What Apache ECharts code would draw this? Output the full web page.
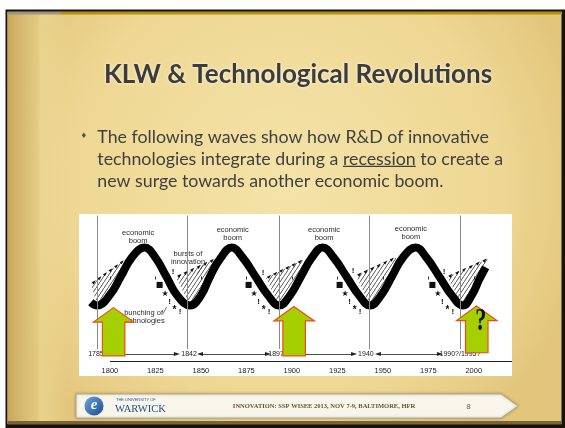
<!DOCTYPE html>
<html><head><meta charset="utf-8">
<script src="https://cdn.jsdelivr.net/npm/echarts@6/dist/echarts.min.js"></script>
<style>html,body{margin:0;padding:0;background:#fff}#c{width:565px;height:428px}</style>
</head><body><div id="c"></div>
<script>
// ---------------- data ----------------
const tickYears = [1800, 1825, 1850, 1875, 1900, 1925, 1950, 1975, 2000];
const waveYears = [1789.5, 1793, 1800, 1806, 1812, 1819, 1825, 1831, 1837, 1844, 1850, 1855, 1861, 1867, 1873, 1880, 1887, 1893, 1899, 1905, 1911, 1917, 1923, 1930, 1937, 1943, 1949, 1955, 1961, 1968, 1974, 1981, 1988, 1994, 1999, 2003, 2006.5];
const waveValues = [-0.84, -0.95, -0.6, 0, 0.62, 0.95, 0.62, 0, -0.62, -0.95, -0.62, 0, 0.62, 0.95, 0.62, 0, -0.62, -0.95, -0.62, 0, 0.62, 0.95, 0.62, 0, -0.62, -0.95, -0.62, 0, 0.62, 0.95, 0.62, 0, -0.62, -0.95, -0.6, -0.1, 0.3];
const peakYears = [1819, 1867, 1917, 1968];
const boomLabelYears = [1815.5, 1867.5, 1917.7, 1965.4];
const boomLabelValues = [1.31, 1.39, 1.39, 1.44];
const troughYears = [1793, 1844, 1893, 1943, 1994];
const cycleLineYears = [1792.8, 1842.3, 1892.9, 1942.4, 1992.4];
const periodLabels = ['1785', '1842', '1897', '1940', '1990?/1995?'];
const periodLabelYears = [1792.3, 1843.5, 1891.3, 1940.7, 1992.4];
const periodArrowFrom = [1796.7, 1849.5, 1897.9, 1947.3];
const periodArrowTo = [1836.8, 1886.9, 1934.2, 1981.4];
const periodArrowBoth = [false, true, false, true];
const hatchFrom = [[1789.6, -0.25], [1836.3, -0.02], [1885.8, -0.05], [1935.3, 0.02], [1985.3, -0.02]];
const hatchTo = [[1808.1, 0.54], [1857.8, 0.57], [1906.1, 0.54], [1956.7, 0.61], [2007.8, 0.58]];
const markSymbols = ['■', '★', '!', '*', '!'];
const arrowYears = [1801.9, 1901.1, 2001.5];
const arrowTop = [-1.02, -0.98, -0.97];
const arrowBottom = [-2.6, -2.6, -2.5];
const annotationTexts = ['bursts of\ninnovation', 'bunching of\ntechnologies'];
const annotationPoints = [[1842.9, 0.62], [1818.5, -1.33]];
const leaderLines = [[[1851.2, 0.37], [1848.0, 0.09]], [[1829.2, -1.22], [1831.1, -1.0]]];
const questionPoint = [2003.9, -1.49];
const Y_MIN = -2.77, Y_MAX = 2.05;
const PERIOD_Y = -2.54;

// ---------------- helpers ----------------
const LABEL_FONT = 'Liberation Sans, Arial, sans-serif';
const BODY_FONT = '17.8px Lato';
const hatchPattern = (function () {
  const c = document.createElement('canvas'); c.width = 4; c.height = 6;
  const g = c.getContext('2d'); g.strokeStyle = '#222'; g.lineWidth = 0.75;
  g.beginPath(); g.moveTo(-1, 7.5); g.lineTo(5, -1.5); g.stroke();
  return c;
})();

function risingYearAt(tr, v) {
  for (let j = 1; j < waveYears.length; j++) {
    if (waveYears[j] > tr && waveValues[j] >= v && waveValues[j - 1] < v) {
      const t = (v - waveValues[j - 1]) / (waveValues[j] - waveValues[j - 1]);
      return [waveYears[j - 1] + t * (waveYears[j] - waveYears[j - 1]), v];
    }
  }
  return [waveYears[waveYears.length - 1], waveValues[waveValues.length - 1]];
}

const bodyTextMeasure = document.createElement('canvas').getContext('2d');
bodyTextMeasure.font = BODY_FONT;
const line2Prefix = 'technologies integrate during a ';
const underlineX0 = 97.3 + bodyTextMeasure.measureText(line2Prefix).width;
const underlineX1 = underlineX0 + bodyTextMeasure.measureText('recession').width;

function gtext(text, x, y, opt) {
  return { type: 'text', x: x, y: y, style: Object.assign({ text: text, align: 'left', verticalAlign: 'middle', textAlign: 'left', textVerticalAlign: 'middle' }, opt) };
}

// ---------------- chart ----------------
const chart = echarts.init(document.getElementById('c'), null, { renderer: 'canvas' });

const markLineData = [];
markLineData.push([{ coord: [1800, Y_MIN], symbol: 'none' }, { coord: [2021, Y_MIN], symbol: 'none' }]);
cycleLineYears.forEach(function (y) {
  markLineData.push([{ coord: [y, 2.0], symbol: 'none', lineStyle: { color: '#8a8a8a', width: 1 } }, { coord: [y, -2.38], symbol: 'none' }]);
});
periodArrowFrom.forEach(function (a, i) {
  markLineData.push([{ coord: [a, PERIOD_Y], symbol: periodArrowBoth[i] ? 'triangle' : 'none', symbolSize: [4, 6], lineStyle: { color: '#222', width: 0.8 } },
    { coord: [periodArrowTo[i], PERIOD_Y], symbol: 'triangle', symbolSize: [4, 6] }]);
});
leaderLines.forEach(function (l) {
  markLineData.push([{ coord: l[0], symbol: 'none', lineStyle: { color: '#333', width: 0.7 } }, { coord: l[1], symbol: 'none' }]);
});

const option = {
  animation: false,
  backgroundColor: '#ffffff',
  grid: { left: 79, top: 214, width: 433, height: 147, containLabel: false, outerBoundsMode: 'none' },
  xAxis: {
    type: 'value', min: 1783, max: 2021,
    axisLine: { show: false },
    splitLine: { show: false },
    axisTick: { show: true, customValues: tickYears, length: 3, lineStyle: { color: '#333', width: 1 } },
    axisLabel: { customValues: tickYears, fontSize: 7.5, color: '#222', margin: 6, fontFamily: LABEL_FONT, formatter: function (v) { return String(v); } }
  },
  yAxis: { type: 'value', min: Y_MIN, max: Y_MAX, show: false },
  graphic: {
    elements: [
      { type: 'rect', z: -100, shape: { x: 0, y: 0, width: 565, height: 428 }, style: { fill: '#ffffff' } },
      { type: 'rect', z: -99, shape: { x: 5.5, y: 9.5, width: 559.5, height: 418.5 }, style: { fill: '#151310' } },
      { type: 'rect', z: -98, shape: { x: 7.5, y: 12, width: 554, height: 412 }, style: { fill: { type: 'radial', x: 0.5, y: 0.42, r: 0.75, colorStops: [{ offset: 0, color: '#f4e3a8' }, { offset: 0.7, color: '#eed793' }, { offset: 1, color: '#e3c67c' }] } } },
      { type: 'rect', z: -97, shape: { x: 7.5, y: 12, width: 60, height: 412 }, style: { fill: { type: 'linear', x: 0, y: 0, x2: 1, y2: 0, colorStops: [{ offset: 0, color: '#c9a85c' }, { offset: 0.25, color: '#d7ba72' }, { offset: 0.5, color: 'rgba(226,200,128,0.8)' }, { offset: 0.55, color: 'rgba(236,214,146,0.7)' }, { offset: 1, color: 'rgba(240,220,152,0)' }] } } },
      { type: 'rect', z: -96, shape: { x: 60, y: 11.5, width: 502, height: 3 }, style: { fill: '#b58f10' } },
      { type: 'rect', z: -96, shape: { x: 7.5, y: 11.5, width: 53, height: 3 }, style: { fill: '#a29579' } },
      { type: 'rect', z: -96, shape: { x: 7.5, y: 421, width: 554, height: 3.5 }, style: { fill: '#7a6436' } },
      // title
      gtext('KLW & Technological Revolutions', 298, 74.5, { align: 'center', textAlign: 'center', fill: '#3c3c3c', font: 'bold 26px Lato', textShadowColor: 'rgba(255,255,255,0.95)', textShadowBlur: 3 }),
      // bullet
      gtext('\u2666', 80.5, 136.5, { fill: '#555', font: '7.5px DejaVu Sans' }),
      gtext('The following waves show how R&D of innovative', 97.3, 137.2, { fill: '#3f3f3f', font: BODY_FONT }),
      gtext('technologies integrate during a recession to create a', 97.3, 159.5, { fill: '#3f3f3f', font: BODY_FONT }),
      gtext('new surge towards another economic boom.', 97.3, 181.2, { fill: '#3f3f3f', font: BODY_FONT }),
      { type: 'line', shape: { x1: underlineX0, y1: 166.3, x2: underlineX1, y2: 166.3 }, style: { stroke: '#3f3f3f', lineWidth: 1.3 } },
      // chart white panel
      { type: 'rect', z: -50, shape: { x: 79, y: 214, width: 433, height: 162 }, style: { fill: '#ffffff' } },
      // footer
      { type: 'polygon', shape: { points: [[76, 394], [501, 394], [518, 406], [501, 418], [76, 418]] }, style: { fill: '#f8f5ea', stroke: '#b3a98f', lineWidth: 1, shadowBlur: 3, shadowColor: 'rgba(0,0,0,0.25)' } },
      { type: 'circle', shape: { cx: 94, cy: 406, r: 9.5 }, style: { fill: { type: 'linear', x: 0, y: 0, x2: 1, y2: 1, colorStops: [{ offset: 0, color: '#6aa3de' }, { offset: 1, color: '#1a4c90' }] } } },
      gtext('e', 94, 405.5, { align: 'center', textAlign: 'center', fill: '#ffffff', font: 'italic bold 15px Liberation Serif' }),
      gtext('THE UNIVERSITY OF', 116, 399.5, { fill: '#2a5a98', font: '4px Liberation Sans' }),
      gtext('WARWICK', 115, 409.5, { fill: '#1f4f8e', font: '10.5px Liberation Serif' }),
      gtext('INNOVATION: SSP WISEE 2013, NOV 7-9, BALTIMORE, HFR', 324, 406, { align: 'center', textAlign: 'center', fill: '#6b5530', font: 'bold 6.5px Liberation Serif' }),
      gtext('8', 468.5, 406.5, { align: 'center', textAlign: 'center', fill: '#6a6a6a', font: '8px Liberation Sans' })
    ]
  },
  series: [
    {
      name: 'guides', type: 'scatter', z: 1, symbolSize: 0, data: [[1800, Y_MIN]], silent: true,
      markLine: { silent: true, animation: false, symbol: 'none', label: { show: false }, lineStyle: { color: '#222', width: 1, type: 'solid' }, data: markLineData }
    },
    {
      name: 'hatch', type: 'custom', z: 2, coordinateSystem: 'cartesian2d', silent: true, clip: false,
      data: hatchFrom.map(function (a, i) { return [a[0], a[1], hatchTo[i][0], hatchTo[i][1], troughYears[i]]; }),
      renderItem: function (params, api) {
        const i = params.dataIndex;
        const a = [api.value(0), api.value(1)], b = [api.value(2), api.value(3)], tr = api.value(4);
        const onWave = risingYearAt(tr, b[1]);
        const pts = [api.coord(a), api.coord(b), api.coord(onWave)];
        for (let j = waveYears.length - 1; j >= 0; j--) {
          if (waveYears[j] < onWave[0] && waveYears[j] >= tr) pts.push(api.coord([waveYears[j], waveValues[j]]));
        }
        const children = [{ type: 'polygon', shape: { points: pts }, style: { fill: { image: hatchPattern, repeat: 'repeat' }, stroke: null } }];
        const pa = api.coord(a), pb = api.coord(b);
        const n = 6, dx = 0.72, dy = -0.69;
        for (let k = 0; k < n; k++) {
          const t = (k + 0.55) / n;
          const px = pa[0] + t * (pb[0] - pa[0]), py = pa[1] + t * (pb[1] - pa[1]);
          children.push({ type: 'polygon', shape: { points: [[px + dx * 2.4, py + dy * 2.4], [px - dx * 2 - dy * 1.5, py - dy * 2 + dx * 1.5], [px - dx * 2 + dy * 1.5, py - dy * 2 - dx * 1.5]] }, style: { fill: '#111' } });
        }
        if (i > 0) {
          children.push({ type: 'text', x: pa[0] - 3, y: pa[1] - 5.5, style: { text: '!', fill: '#111', font: 'bold 8px Liberation Sans', align: 'center', verticalAlign: 'middle' } });
        }
        return { type: 'group', children: children };
      }
    },
    {
      name: 'wave', type: 'line', z: 3, smooth: 0.45, symbol: 'none', silent: true,
      data: waveYears.map(function (y, i) { return [y, waveValues[i]]; }),
      lineStyle: { color: '#000', width: 8, cap: 'butt' }
    },
    {
      name: 'recession marks', type: 'custom', z: 3, coordinateSystem: 'cartesian2d', silent: true, clip: false,
      data: troughYears.slice(1).map(function (y) { return [y, -0.95]; }),
      renderItem: function (params, api) {
        const c = api.coord([api.value(0), api.value(1)]);
        const offs = [[-30.5, -20.5, '8px DejaVu Sans'], [-25, -11.5, '8px DejaVu Sans'], [-20.5, -4, 'bold 8px Liberation Sans'], [-15.5, 4.5, 'bold 10px Liberation Sans'], [-10, 6.5, 'bold 8px Liberation Sans']];
        return { type: 'group', children: markSymbols.map(function (s, k) {
          return { type: 'text', x: c[0] + offs[k][0], y: c[1] + offs[k][1], style: { text: s, fill: '#111', font: offs[k][2], align: 'center', verticalAlign: 'middle' } };
        }) };
      }
    },
    {
      name: 'boom labels', type: 'custom', z: 3, coordinateSystem: 'cartesian2d', silent: true, clip: false,
      data: boomLabelYears.map(function (y, i) { return [y, boomLabelValues[i]]; }),
      renderItem: function (params, api) {
        const c = api.coord([api.value(0), api.value(1)]);
        return { type: 'text', x: c[0], y: c[1], style: { text: 'economic\nboom', fill: '#2b2b2b', fontSize: 7.5, fontFamily: LABEL_FONT, lineHeight: 8, align: 'center', verticalAlign: 'middle' } };
      }
    },
    {
      name: 'annotations', type: 'custom', z: 3, coordinateSystem: 'cartesian2d', silent: true, clip: false,
      data: annotationPoints,
      renderItem: function (params, api) {
        const c = api.coord([api.value(0), api.value(1)]);
        return { type: 'text', x: c[0], y: c[1], style: { text: annotationTexts[params.dataIndex], fill: '#2b2b2b', fontSize: 7.5, fontFamily: LABEL_FONT, lineHeight: 8, align: 'center', verticalAlign: 'middle' } };
      }
    },
    {
      name: 'period labels', type: 'custom', z: 3, coordinateSystem: 'cartesian2d', silent: true, clip: false,
      data: periodLabelYears.map(function (y) { return [y, PERIOD_Y]; }),
      renderItem: function (params, api) {
        const c = api.coord([api.value(0), api.value(1)]);
        return { type: 'text', x: c[0], y: c[1], style: { text: periodLabels[params.dataIndex], fill: '#222', fontSize: 7, fontFamily: LABEL_FONT, align: 'center', verticalAlign: 'middle' } };
      }
    },
    {
      name: 'surge arrows', type: 'custom', z: 5, coordinateSystem: 'cartesian2d', silent: true, clip: false,
      data: arrowYears.map(function (y, i) { return [y, arrowTop[i], arrowBottom[i]]; }),
      renderItem: function (params, api) {
        const tip = api.coord([api.value(0), api.value(1)]);
        const base = api.coord([api.value(0), api.value(2)]);
        const x = tip[0], ty = tip[1], hy = ty + 14.5, by = base[1];
        return { type: 'polygon', shape: { points: [[x, ty], [x + 20.5, hy], [x + 11.5, hy], [x + 11.5, by], [x - 11, by], [x - 11, hy], [x - 20, hy]] },
          style: { fill: '#a6cf00', stroke: '#f04a1c', lineWidth: 1.2 } };
      }
    },
    {
      name: 'question', type: 'custom', z: 6, coordinateSystem: 'cartesian2d', silent: true, clip: false,
      data: [questionPoint],
      renderItem: function (params, api) {
        const c = api.coord([api.value(0), api.value(1)]);
        return { type: 'text', x: c[0], y: c[1], scaleX: 0.72, style: { text: '?', fill: '#111', font: 'bold 31px Liberation Serif', align: 'center', verticalAlign: 'middle' } };
      }
    }
  ]
};
chart.setOption(option);
</script></body></html>
